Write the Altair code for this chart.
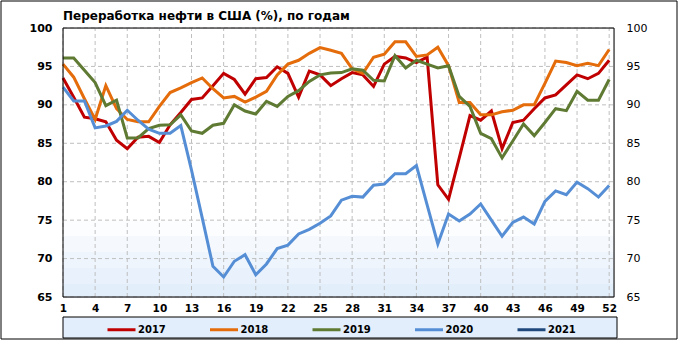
import altair as alt
import pandas as pd

weeks = list(range(1, 53))
years = ["2017", "2018", "2019", "2020", "2021"]
colors = ["#c00000", "#e46c0a", "#5f7a32", "#558ed5", "#1f497d"]

s2017 = [93.5, 91.0, 88.4, 88.2, 87.8, 85.4, 84.3, 85.8, 85.9, 85.1,
         87.4, 89.0, 90.7, 90.9, 92.5, 94.1, 93.3, 91.4, 93.4, 93.55,
         94.95, 94.1, 91.0, 94.4, 93.9, 92.5, 93.4, 94.2, 93.9, 92.4,
         95.3, 96.3, 96.1, 95.5, 96.2, 79.6, 77.7, 83.1, 88.6, 88.0,
         89.2, 84.3, 87.7, 88.0, 89.5, 90.9, 91.3, 92.6, 93.9, 93.4,
         94.1, 95.8]
s2018 = [95.3, 93.6, 90.8, 88.1, 92.5, 89.5, 88.1, 87.8, 87.8, 89.8,
         91.6, 92.2, 92.9, 93.5, 92.1, 90.9, 91.1, 90.35, 91.0, 91.75,
         93.9, 95.3, 95.8, 96.7, 97.45, 97.1, 96.7, 94.7, 94.1, 96.2,
         96.6, 98.2, 98.2, 96.3, 96.5, 97.5, 95.1, 90.3, 90.3, 88.7,
         88.7, 89.1, 89.3, 90.0, 90.0, 92.8, 95.7, 95.5, 95.1, 95.4,
         95.1, 97.2]
s2019 = [96.1, 96.1, 94.5, 92.9, 89.9, 90.6, 85.7, 85.7, 86.9, 87.35,
         87.4, 88.7, 86.6, 86.3, 87.35, 87.6, 90.0, 89.2, 88.8, 90.45,
         89.8, 91.1, 91.85, 93.05, 93.9, 94.15, 94.2, 94.7, 94.5, 93.2,
         93.1, 96.4, 94.8, 95.8, 95.3, 94.8, 95.1, 91.1, 89.8, 86.3,
         85.6, 83.1, 85.3, 87.5, 86.0, 87.7, 89.5, 89.25, 91.75, 90.6,
         90.6, 93.3]
s2020 = [92.3, 90.5, 90.5, 87.0, 87.25, 87.85, 89.3, 88.0, 86.85, 86.3,
         86.3, 87.3, 81.5, 75.3, 69.0, 67.6, 69.65, 70.5, 67.9, 69.3,
         71.3, 71.75, 73.2, 73.8, 74.6, 75.55, 77.6, 78.1, 78.0, 79.55,
         79.7, 81.05, 81.05, 82.1, 77.0, 71.9, 75.8, 74.9, 75.8, 77.1,
         75.0, 72.9, 74.7, 75.4, 74.5, 77.45, 78.8, 78.3, 79.95, 79.1,
         78.0, 79.5]

title_text = "Переработка нефти в США (%), по годам"
x_ticks = list(range(1, 53, 3))
y_ticks = [65, 70, 75, 80, 85, 90, 95, 100]
x_min, x_max = 1, 52.45
y_min, y_max = 65, 100

rows = []
for yr, vals in zip(years[:4], [s2017, s2018, s2019, s2020]):
    for w, v in zip(weeks, vals):
        rows.append({"week": w, "year": yr, "value": v})
df = pd.DataFrame(rows)

# grid lines as two-point paths built from the tick lists
vg = []
for t in x_ticks:
    vg += [{"gx": t, "gy": y_min, "k": f"v{t}", "o": 0, "c": "#bfbfbf"},
           {"gx": t, "gy": y_max, "k": f"v{t}", "o": 1, "c": "#bfbfbf"}]
hg = []
for v in y_ticks:
    hg += [{"hx": x_min, "hy": v, "k": f"h{v}", "o": 0, "c": "#bfbfbf"},
           {"hx": x_max, "hy": v, "k": f"h{v}", "o": 1, "c": "#bfbfbf"}]
frame_pts = pd.DataFrame({
    "fx": [x_min, x_min, x_max, x_max, x_min],
    "fy": [y_min, y_max, y_max, y_min, y_min],
    "o": [0, 1, 2, 3, 4], "c": ["black"] * 5})

W, H = 551, 269
FONT = "DejaVu Sans"
TOP, BOT = -27, H + 42
xscale = alt.Scale(domain=[x_min, x_max], nice=False, zero=False)

def ysc():
    return alt.Scale(domain=[y_min, y_max], nice=False, zero=False)

# soft light-blue shading of the lower plot area (pixel bands, style only)
band_px = [192, 208, 224, 240, 256, 269]
band_colors = ["#fcfdff", "#f5f9fe", "#eef5fd", "#e8f1fc", "#e3eefb"]
bands = pd.DataFrame({"y0": band_px[:-1], "y1": band_px[1:], "bc": band_colors})

x_axis = alt.Axis(values=x_ticks, grid=False, ticks=False, domain=False, title=None,
                  labelFont=FONT, labelFontSize=10.5, labelFontWeight="bold",
                  labelColor="black", labelPadding=6, labelFlush=False)

outer_box = alt.Chart(pd.DataFrame({"ob": [0]})).mark_rect(
    fillOpacity=0, stroke="black", strokeWidth=1).encode(
    x=alt.value(-62), x2=alt.value(W + 63), y=alt.value(TOP), y2=alt.value(BOT))

shade = alt.Chart(bands).mark_rect(strokeWidth=0).encode(
    x=alt.value(0), x2=alt.value(W),
    y=alt.Y("y0:Q", scale=None), y2="y1:Q",
    fill=alt.Fill("bc:N", scale=None))

vgrid = alt.Chart(pd.DataFrame(vg)).mark_line(strokeWidth=1, strokeDash=[4, 3]).encode(
    x=alt.X("gx:Q", scale=xscale, axis=x_axis),
    y=alt.Y("gy:Q", scale=ysc(), axis=None),
    detail="k:N", order="o:Q",
    stroke=alt.Stroke("c:N", scale=None))

hgrid = alt.Chart(pd.DataFrame(hg)).mark_line(strokeWidth=1, strokeDash=[4, 3]).encode(
    x=alt.X("hx:Q", scale=xscale, axis=x_axis),
    y=alt.Y("hy:Q", scale=ysc(),
            axis=alt.Axis(orient="right", values=y_ticks, grid=False, ticks=False,
                          domain=False, title=None, labelFont=FONT, labelFontSize=11,
                          labelFontWeight="normal", labelColor="black", labelPadding=12)),
    detail="k:N", order="o:Q",
    stroke=alt.Stroke("c:N", scale=None))

legend_box = alt.Chart(pd.DataFrame({"lb": [0]})).mark_rect(
    fill="#e2eefb", stroke="black", strokeWidth=1).encode(
    x=alt.value(0), x2=alt.value(554), y=alt.value(289), y2=alt.value(310))

lines = alt.Chart(df).mark_line(strokeWidth=3).encode(
    x=alt.X("week:Q", scale=xscale, axis=x_axis),
    y=alt.Y("value:Q", scale=ysc(),
            axis=alt.Axis(orient="left", values=y_ticks, grid=False, ticks=False,
                          domain=False, title=None, labelFont=FONT, labelFontSize=11,
                          labelFontWeight="bold", labelColor="black", labelPadding=11)),
    color=alt.Color("year:N", scale=alt.Scale(domain=years, range=colors),
                    legend=alt.Legend(orient="none", legendX=43, legendY=286,
                                      direction="horizontal", columns=5,
                                      symbolType="stroke", symbolSize=784,
                                      symbolStrokeWidth=3, labelFont=FONT,
                                      labelFontSize=10, labelFontWeight="bold",
                                      labelColor="black", columnPadding=37.5,
                                      labelOffset=1, title=None, padding=0)),
    detail="year:N")

frame = alt.Chart(frame_pts).mark_line(strokeWidth=1).encode(
    x=alt.X("fx:Q", scale=xscale, axis=x_axis),
    y=alt.Y("fy:Q", scale=ysc(), axis=None),
    order="o:Q",
    stroke=alt.Stroke("c:N", scale=None))

chart = alt.layer(outer_box, shade, vgrid, hgrid, legend_box, lines, frame).resolve_scale(
    y="independent").properties(
    width=W, height=H,
    title=alt.TitleParams(title_text, anchor="start", frame="group", font=FONT,
                          fontSize=12, fontWeight="bold", color="black",
                          offset=-14, dy=17, baseline="alphabetic"),
    autosize=alt.AutoSizeParams(type="none"),
    padding={"left": 63, "top": 28, "right": 67, "bottom": 44},
).configure_view(stroke=None).configure(background="white")

chart.save("out.html", embed_options={"renderer": "svg", "actions": False})
